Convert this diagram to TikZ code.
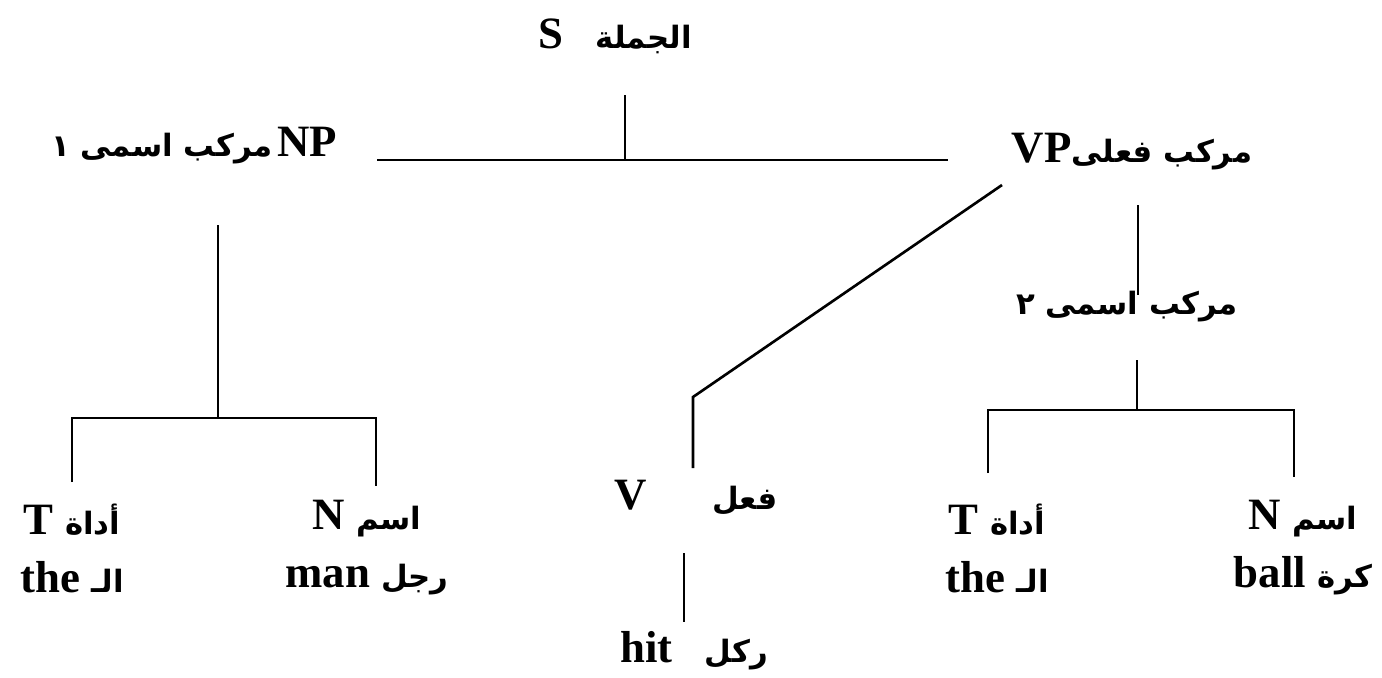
\documentclass[tikz,border=0pt]{standalone}
\usepackage{fontspec}
\setmainfont{Liberation Serif}
\newfontfamily\arabicfont[Script=Arabic]{DejaVu Sans}
\TeXXeTstate=1
\usetikzlibrary{positioning}
\newcommand{\ar}[1]{{\fontsize{17.5}{33}\arabicfont\bfseries\beginR #1\endR}}

\begin{document}
\begin{tikzpicture}[
  x=0.02cm, y=-0.02cm,
  lbl/.style={inner sep=0pt, align=center,
  font=\fontsize{25.5}{33}\selectfont\bfseries},
  branch/.style={line width=1.5pt, draw=black}
]
\useasboundingbox (0,0) rectangle (1382,677);

% labels
\node[lbl] (s) at (615,36) {S\hspace{0.65cm}\ar{الجملة}};
\node[lbl] (np) at (194,146) {\ar{مركب اسمى ١}\hspace{0.1cm}NP};
\node[lbl] (vp) at (1132,152) {VP\ar{مركب فعلى}};
\node[lbl] (nptwo) at (1127,307) {\ar{مركب اسمى ٢}};
\node[lbl] (det) at (72,548) {T \ar{أداة}\\the \ar{الـ}};
\node[lbl] (noun) at (367,548) {N \ar{اسم}\\man \ar{رجل}};
\node[lbl] (verb) at (696,498) {V\hspace{1.3cm}\ar{فعل}};
\node[lbl] (hit) at (694,651) {hit\hspace{0.65cm}\ar{ركل}};
\node[lbl] (dettwo) at (997,548) {T \ar{أداة}\\the \ar{الـ}};
\node[lbl] (nountwo) at (1303,548) {N \ar{اسم}\\ball \ar{كرة}};

% joints
\coordinate (s-foot) at (625,95);
\coordinate (s-join) at (625,160);
\coordinate (np-end) at (377,160);
\coordinate (vp-end) at (948,160);
\coordinate (np-foot) at (218,225);
\coordinate (np-join) at (218,418);
\coordinate (det-top) at (72,482);
\coordinate (noun-top) at (376,486);
\coordinate (vp-left) at (1002,185);
\coordinate (v-bend) at (693,397);
\coordinate (v-top) at (693,468);
\coordinate (vp-foot) at (1138,205);
\coordinate (nptwo-top) at (1138,295);
\coordinate (nptwo-foot) at (1137,360);
\coordinate (nptwo-join) at (1137,410);
\coordinate (dettwo-top) at (988,473);
\coordinate (nountwo-top) at (1294,477);
\coordinate (v-foot) at (684,553);
\coordinate (hit-top) at (684,622);

\draw[branch] (s-foot) -- (s-join);
\draw[branch] (np-end) -- (vp-end);
\draw[branch] (np-foot) -- (np-join);
\draw[branch] (det-top) -- (det-top |- np-join) -- (noun-top |- np-join) -- (noun-top);
\draw[branch] (vp-left) -- (v-bend) -- (v-top);
\draw[branch] (vp-foot) -- (nptwo-top);
\draw[branch] (nptwo-foot) -- (nptwo-join);
\draw[branch] (dettwo-top) -- (dettwo-top |- nptwo-join) -- (nountwo-top |- nptwo-join) -- (nountwo-top);
\draw[branch] (v-foot) -- (hit-top);
\end{tikzpicture}
\end{document}
